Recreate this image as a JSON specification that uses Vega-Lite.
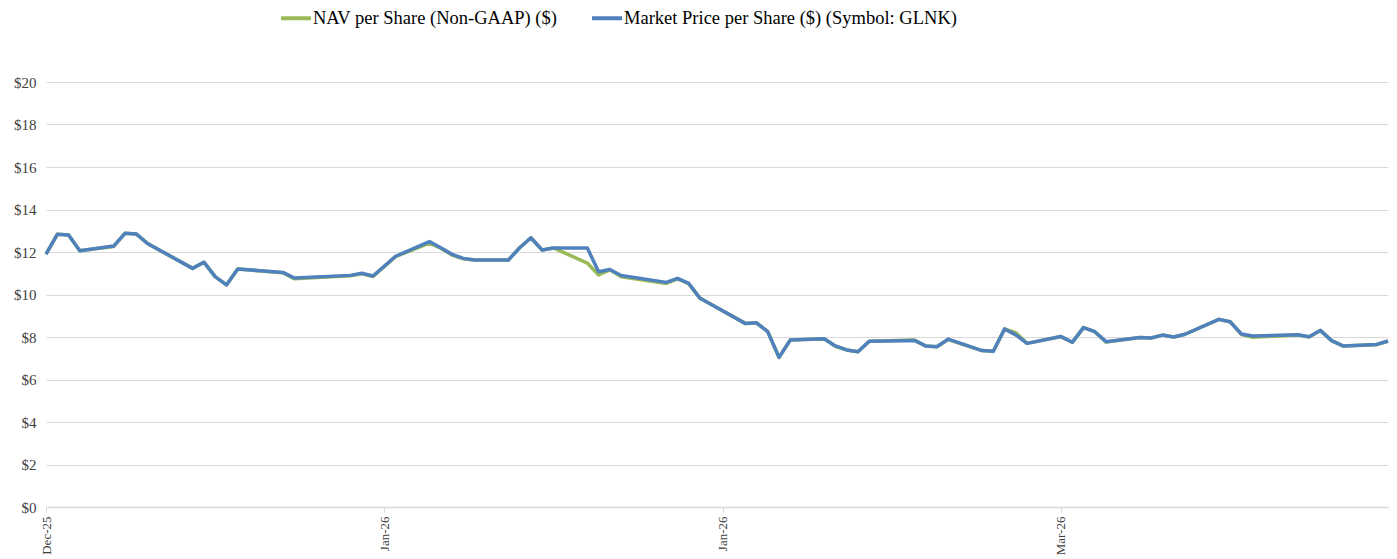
{
  "$schema": "https://vega.github.io/schema/vega-lite/v6.json",
  "width": 1342,
  "height": 425,
  "autosize": {"type": "none"},
  "padding": {"left": 46, "top": 82, "right": 9, "bottom": 52},
  "background": "white",
  "config": {
    "font": "'Liberation Serif', 'Times New Roman', serif",
    "view": {"stroke": null}
  },
  "data": {
    "values": [
      {"date": "2025-12-02", "nav": 11.9, "market": 11.9},
      {"date": "2025-12-03", "nav": 12.83, "market": 12.83},
      {"date": "2025-12-04", "nav": 12.8, "market": 12.8},
      {"date": "2025-12-05", "nav": 12.06, "market": 12.06},
      {"date": "2025-12-08", "nav": 12.26, "market": 12.28},
      {"date": "2025-12-09", "nav": 12.88, "market": 12.88},
      {"date": "2025-12-10", "nav": 12.85, "market": 12.85},
      {"date": "2025-12-11", "nav": 12.4, "market": 12.4},
      {"date": "2025-12-15", "nav": 11.23, "market": 11.23},
      {"date": "2025-12-16", "nav": 11.52, "market": 11.52},
      {"date": "2025-12-17", "nav": 10.84, "market": 10.84},
      {"date": "2025-12-18", "nav": 10.45, "market": 10.45},
      {"date": "2025-12-19", "nav": 11.2, "market": 11.2},
      {"date": "2025-12-23", "nav": 11.02, "market": 11.04},
      {"date": "2025-12-24", "nav": 10.74, "market": 10.78},
      {"date": "2025-12-29", "nav": 10.88, "market": 10.9},
      {"date": "2025-12-30", "nav": 10.97, "market": 11.0},
      {"date": "2025-12-31", "nav": 10.85, "market": 10.87},
      {"date": "2026-01-02", "nav": 11.78, "market": 11.8},
      {"date": "2026-01-05", "nav": 12.42, "market": 12.49},
      {"date": "2026-01-06", "nav": 12.18, "market": 12.2},
      {"date": "2026-01-07", "nav": 11.86, "market": 11.89},
      {"date": "2026-01-08", "nav": 11.68, "market": 11.7},
      {"date": "2026-01-09", "nav": 11.62, "market": 11.62},
      {"date": "2026-01-12", "nav": 11.62, "market": 11.62},
      {"date": "2026-01-13", "nav": 12.2, "market": 12.2},
      {"date": "2026-01-14", "nav": 12.67, "market": 12.67},
      {"date": "2026-01-15", "nav": 12.09, "market": 12.09},
      {"date": "2026-01-16", "nav": 12.19, "market": 12.19},
      {"date": "2026-01-19", "nav": 11.48, "market": 12.19},
      {"date": "2026-01-20", "nav": 10.92, "market": 11.07},
      {"date": "2026-01-21", "nav": 11.16, "market": 11.18},
      {"date": "2026-01-22", "nav": 10.84, "market": 10.89},
      {"date": "2026-01-26", "nav": 10.52, "market": 10.57},
      {"date": "2026-01-27", "nav": 10.74, "market": 10.76},
      {"date": "2026-01-28", "nav": 10.5, "market": 10.52},
      {"date": "2026-01-29", "nav": 9.82, "market": 9.82},
      {"date": "2026-01-30", "nav": 9.53, "market": 9.53},
      {"date": "2026-02-02", "nav": 8.64, "market": 8.64},
      {"date": "2026-02-03", "nav": 8.67, "market": 8.67},
      {"date": "2026-02-04", "nav": 8.25, "market": 8.25},
      {"date": "2026-02-05", "nav": 7.04, "market": 7.04},
      {"date": "2026-02-06", "nav": 7.86, "market": 7.86},
      {"date": "2026-02-09", "nav": 7.92, "market": 7.92},
      {"date": "2026-02-10", "nav": 7.56, "market": 7.58},
      {"date": "2026-02-11", "nav": 7.39, "market": 7.39},
      {"date": "2026-02-12", "nav": 7.31, "market": 7.31},
      {"date": "2026-02-13", "nav": 7.8, "market": 7.8},
      {"date": "2026-02-17", "nav": 7.86, "market": 7.84},
      {"date": "2026-02-18", "nav": 7.58, "market": 7.58},
      {"date": "2026-02-19", "nav": 7.54, "market": 7.54},
      {"date": "2026-02-20", "nav": 7.88, "market": 7.9},
      {"date": "2026-02-23", "nav": 7.36, "market": 7.36},
      {"date": "2026-02-24", "nav": 7.33, "market": 7.33},
      {"date": "2026-02-25", "nav": 8.38, "market": 8.38},
      {"date": "2026-02-26", "nav": 8.2, "market": 8.1},
      {"date": "2026-02-27", "nav": 7.7, "market": 7.7},
      {"date": "2026-03-02", "nav": 8.02, "market": 8.02},
      {"date": "2026-03-03", "nav": 7.75, "market": 7.75},
      {"date": "2026-03-04", "nav": 8.44, "market": 8.44},
      {"date": "2026-03-05", "nav": 8.25, "market": 8.25},
      {"date": "2026-03-06", "nav": 7.76, "market": 7.78},
      {"date": "2026-03-09", "nav": 7.98, "market": 7.98},
      {"date": "2026-03-10", "nav": 7.95, "market": 7.95},
      {"date": "2026-03-11", "nav": 8.09, "market": 8.09},
      {"date": "2026-03-12", "nav": 8.0, "market": 8.0},
      {"date": "2026-03-13", "nav": 8.13, "market": 8.13},
      {"date": "2026-03-16", "nav": 8.83, "market": 8.83},
      {"date": "2026-03-17", "nav": 8.72, "market": 8.72},
      {"date": "2026-03-18", "nav": 8.12, "market": 8.14},
      {"date": "2026-03-19", "nav": 7.99, "market": 8.05},
      {"date": "2026-03-23", "nav": 8.09, "market": 8.11},
      {"date": "2026-03-24", "nav": 8.0, "market": 8.01},
      {"date": "2026-03-25", "nav": 8.31, "market": 8.31},
      {"date": "2026-03-26", "nav": 7.83, "market": 7.83},
      {"date": "2026-03-27", "nav": 7.58, "market": 7.58},
      {"date": "2026-03-30", "nav": 7.64, "market": 7.65},
      {"date": "2026-03-31", "nav": 7.8, "market": 7.81}
    ]
  },
  "encoding": {
    "x": {
      "field": "date",
      "type": "temporal",
      "scale": {
        "type": "utc",
        "domain": [
          {"year": 2025, "month": 12, "date": 2, "utc": true},
          {"year": 2026, "month": 3, "date": 31, "utc": true}
        ]
      },
      "axis": {
        "title": null,
        "values": [
          {"year": 2025, "month": 12, "date": 2, "utc": true},
          {"year": 2026, "month": 1, "date": 1, "utc": true},
          {"year": 2026, "month": 1, "date": 31, "utc": true},
          {"year": 2026, "month": 3, "date": 2, "utc": true}
        ],
        "format": "%b-%y",
        "labelAngle": -90,
        "labelAlign": "right",
        "labelBaseline": "middle",
        "labelFontSize": 13,
        "labelColor": "#404040",
        "labelPadding": 4,
        "labelFlush": false,
        "labelOverlap": false,
        "grid": false,
        "domainColor": "#d9d9d9",
        "domainWidth": 1.5,
        "tickColor": "#d9d9d9",
        "tickSize": 5
      }
    },
    "color": {
      "type": "nominal",
      "scale": {
        "domain": ["NAV per Share (Non-GAAP) ($)", "Market Price per Share ($) (Symbol: GLNK)"],
        "range": ["#9BBB59", "#4F81BD"]
      },
      "legend": {
        "title": null,
        "orient": "none",
        "direction": "horizontal",
        "legendX": 233,
        "legendY": -81,
        "symbolType": "stroke",
        "symbolSize": 900,
        "symbolStrokeWidth": 4,
        "labelFontSize": 18.5,
        "labelColor": "#000000",
        "labelOffset": 0,
        "columnPadding": 26,
        "labelLimit": 500
      }
    }
  },
  "layer": [
    {
      "mark": {"type": "line", "strokeWidth": 3.5, "strokeJoin": "round"},
      "encoding": {
        "y": {
          "field": "nav",
          "type": "quantitative",
          "scale": {"domain": [0, 20]},
          "axis": {
            "title": null,
            "values": [0, 2, 4, 6, 8, 10, 12, 14, 16, 18, 20],
            "format": "$.0f",
            "labelFontSize": 15,
            "labelColor": "#404040",
            "labelPadding": 10,
            "domain": false,
            "ticks": false,
            "gridColor": "#d9d9d9",
            "gridWidth": 1
          }
        },
        "color": {"datum": "NAV per Share (Non-GAAP) ($)"}
      }
    },
    {
      "mark": {"type": "line", "strokeWidth": 3.5, "strokeJoin": "round"},
      "encoding": {
        "y": {"field": "market", "type": "quantitative"},
        "color": {"datum": "Market Price per Share ($) (Symbol: GLNK)"}
      }
    }
  ],
  "resolve": {"scale": {"y": "shared"}}
}
